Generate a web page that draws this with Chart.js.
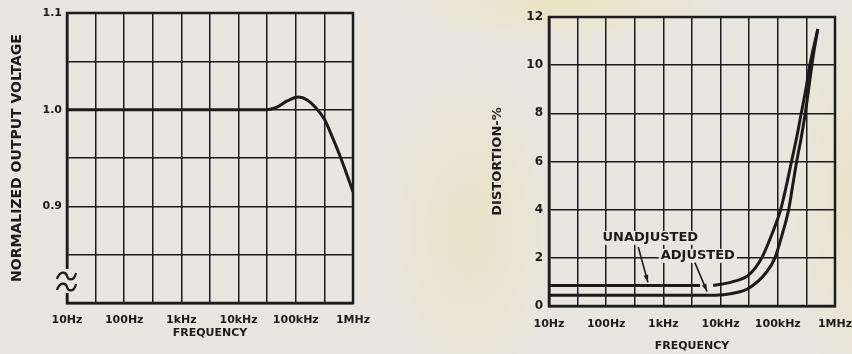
<!DOCTYPE html>
<html>
<head>
<meta charset="utf-8">
<script src="https://cdn.jsdelivr.net/npm/chart.js@4.4.1/dist/chart.umd.min.js"></script>
<style>
  html, body { margin: 0; padding: 0; }
  body {
    width: 852px; height: 354px; overflow: hidden; position: relative;
    background:
      radial-gradient(ellipse 160px 40px at 560px 0px, rgba(238, 224, 170, 0.55), rgba(238, 224, 170, 0)),
      radial-gradient(ellipse 90px 160px at 470px 230px, rgba(236, 222, 172, 0.45), rgba(236, 222, 172, 0)),
      radial-gradient(ellipse 60px 200px at 852px 200px, rgba(236, 222, 172, 0.4), rgba(236, 222, 172, 0)),
      #e8e6de;
  }
  #left { position: absolute; left: 0; top: 0; }
  #right { position: absolute; left: 440px; top: 0; }
</style>
</head>
<body>
<canvas id="left" width="380" height="354"></canvas>
<canvas id="right" width="412" height="354"></canvas>
<script>
// frequency axis (shared)
const gridFreqs = [10, 31.62, 100, 316.2, 1000, 3162, 10000, 31623, 100000, 316228, 1000000];
const decadeFreqs = [10, 100, 1000, 10000, 100000, 1000000];
const freqLabels = ["10Hz", "100Hz", "1kHz", "10kHz", "100kHz", "1MHz"];

// left: normalized output voltage
const voltGrid = [0.8, 0.85, 0.9, 0.95, 1.0, 1.05, 1.1];
const voltTickValues = [0.9, 1.0, 1.1];
const voltTickLabels = ["0.9", "1.0", "1.1"];
const respFreq = [10, 31623, 44668, 70795, 112202, 158489, 223872, 316228, 446684, 630957, 1000000];
const respVolt = [1.0, 1.0, 1.002, 1.009, 1.013, 1.01, 1.002, 0.99, 0.97, 0.948, 0.915];

// right: distortion
const unadjFreq = [10, 4365, 5500, 7413, 15849, 31623, 52481, 79433, 112202, 141254, 173780, 213796, 257040, 309030, 363078, 501187];
const unadjDist = [0.85, 0.85, null, 0.85, 1.0, 1.3, 2.0, 3.0, 4.0, 5.0, 6.0, 7.0, 8.0, 9.0, 10.0, 11.5];
const adjFreq = [10, 7943, 15849, 31623, 63096, 89125, 120226, 154882, 181970, 213796, 257040, 301995, 354813, 416869, 501187];
const adjDist = [0.45, 0.45, 0.52, 0.75, 1.4, 2.0, 3.0, 4.0, 5.0, 6.0, 7.0, 8.0, 9.2, 10.4, 11.5];

// callouts on the distortion chart
const noteLabels = ["UNADJUSTED", "ADJUSTED"];
const noteAt = [[590, 2.83], [4000, 2.08]];
const arrowFrom = [[363, 2.45], [3548, 1.8]];
const arrowTo = [[537, 0.98], [5800, 0.6]];

const ink = "#1b1b1b";
const paper = "#e8e6de";

Chart.defaults.font.family = "'DejaVu Sans', sans-serif";
Chart.defaults.font.weight = "bold";
Chart.defaults.color = ink;

function toPoints(xs, ys) {
    return xs.map((x, i) => ({ x: x, y: ys[i] }));
}

function freqAxis(height, tickPad, titlePad) {
    return {
        type: "logarithmic",
        min: 10,
        max: 1000000,
        afterBuildTicks: (scale) => {
            scale.ticks = gridFreqs.map(v => ({ value: v }));
        },
        afterFit: (scale) => {
            scale.height = height;
            scale.paddingLeft = 0;
            scale.paddingRight = 0;
        },
        grid: { color: ink, lineWidth: 1.5, drawTicks: false },
        border: { color: ink, width: 2.5 },
        ticks: {
            autoSkip: false,
            maxRotation: 0,
            padding: tickPad,
            font: { size: 11, weight: "bold" },
            callback: (v) => {
                const i = decadeFreqs.indexOf(v);
                return i >= 0 ? freqLabels[i] : "";
            }
        },
        title: {
            display: true,
            text: "FREQUENCY",
            font: { size: 11, weight: "bold" },
            padding: { top: 0, bottom: titlePad }
        }
    };
}

// heavy frame round the plot
const framePlugin = {
    id: "frame",
    beforeDatasetsDraw(chart) {
        const a = chart.chartArea;
        const ctx = chart.ctx;
        ctx.save();
        ctx.strokeStyle = ink;
        ctx.lineWidth = 2.5;
        ctx.strokeRect(a.left, a.top, a.right - a.left, a.bottom - a.top);
        ctx.restore();
    }
};

// axis break mark on the voltage chart
const breakPlugin = {
    id: "axisBreak",
    afterDraw(chart) {
        const a = chart.chartArea;
        const ctx = chart.ctx;
        ctx.save();
        ctx.fillStyle = paper;
        ctx.fillRect(a.left - 3, a.bottom - 34, 6, 24);
        ctx.strokeStyle = ink;
        ctx.lineWidth = 2.2;
        [a.bottom - 27, a.bottom - 16].forEach(y => {
            ctx.beginPath();
            ctx.moveTo(a.left - 10, y + 3);
            ctx.bezierCurveTo(a.left - 7, y - 6, a.left - 1, y - 4, a.left, y);
            ctx.bezierCurveTo(a.left + 1, y + 4, a.left + 7, y + 6, a.left + 9, y - 3);
            ctx.stroke();
        });
        ctx.restore();
    }
};

// labels with arrows on the distortion chart
const notePlugin = {
    id: "notes",
    afterDatasetsDraw(chart) {
        const xs = chart.scales.x, ys = chart.scales.y;
        const ctx = chart.ctx;
        ctx.save();
        ctx.font = "bold 13px 'DejaVu Sans'";
        ctx.textAlign = "center";
        ctx.textBaseline = "middle";
        noteLabels.forEach((t, i) => {
            const cx = xs.getPixelForValue(noteAt[i][0]);
            const cy = ys.getPixelForValue(noteAt[i][1]);
            const w = ctx.measureText(t).width;
            ctx.fillStyle = paper;
            ctx.fillRect(cx - w / 2 - 2, cy - 7, w + 4, 14);
            ctx.fillStyle = ink;
            ctx.fillText(t, cx, cy);

            const x0 = xs.getPixelForValue(arrowFrom[i][0]);
            const y0 = ys.getPixelForValue(arrowFrom[i][1]);
            const x1 = xs.getPixelForValue(arrowTo[i][0]);
            const y1 = ys.getPixelForValue(arrowTo[i][1]);
            ctx.strokeStyle = ink;
            ctx.lineWidth = 1.6;
            ctx.beginPath();
            ctx.moveTo(x0, y0);
            ctx.lineTo(x1, y1);
            ctx.stroke();
            const ang = Math.atan2(y1 - y0, x1 - x0);
            ctx.beginPath();
            ctx.moveTo(x1, y1);
            ctx.lineTo(x1 - 8 * Math.cos(ang - 0.3), y1 - 8 * Math.sin(ang - 0.3));
            ctx.lineTo(x1 - 8 * Math.cos(ang + 0.3), y1 - 8 * Math.sin(ang + 0.3));
            ctx.closePath();
            ctx.fill();
        });
        ctx.restore();
    }
};

const curveStyle = {
    borderColor: ink,
    borderWidth: 3,
    pointRadius: 0,
    fill: false,
    cubicInterpolationMode: "monotone",
    spanGaps: false
};

new Chart(document.getElementById("left"), {
    type: "line",
    data: {
        datasets: [Object.assign({
            label: "Normalized output voltage",
            data: toPoints(respFreq, respVolt)
        }, curveStyle)]
    },
    options: {
        responsive: false,
        animation: false,
        layout: { padding: { left: 0, right: 27, top: 13, bottom: 0 } },
        plugins: { legend: { display: false }, tooltip: { enabled: false } },
        scales: {
            x: freqAxis(51, 11, 14),
            y: {
                min: 0.8,
                max: 1.1,
                afterBuildTicks: (scale) => {
                    scale.ticks = voltGrid.map(v => ({ value: v }));
                },
                afterFit: (scale) => { scale.width = 67; },
                grid: { color: ink, lineWidth: 1.5, drawTicks: false },
                border: { color: ink, width: 2.5 },
                ticks: {
                    padding: 5,
                    font: { size: 11, weight: "bold" },
                    callback: (v) => {
                        const i = voltTickValues.findIndex(t => Math.abs(t - v) < 1e-6);
                        return i >= 0 ? voltTickLabels[i] : "";
                    }
                },
                title: {
                    display: true,
                    text: "NORMALIZED OUTPUT VOLTAGE",
                    font: { size: 14, weight: "bold" },
                    padding: { top: 9, bottom: 0 }
                }
            }
        }
    },
    plugins: [framePlugin, breakPlugin]
});

new Chart(document.getElementById("right"), {
    type: "line",
    data: {
        datasets: [
            Object.assign({ label: "Unadjusted", data: toPoints(unadjFreq, unadjDist) }, curveStyle),
            Object.assign({ label: "Adjusted", data: toPoints(adjFreq, adjDist) }, curveStyle)
        ]
    },
    options: {
        responsive: false,
        animation: false,
        layout: { padding: { left: 0, right: 17, top: 17, bottom: 0 } },
        plugins: { legend: { display: false }, tooltip: { enabled: false } },
        scales: {
            x: freqAxis(48, 12, 1),
            y: {
                min: 0,
                max: 12,
                ticks: {
                    stepSize: 2,
                    padding: 6,
                    font: { size: 12, weight: "bold" }
                },
                afterFit: (scale) => { scale.width = 109; },
                grid: { color: ink, lineWidth: 1.5, drawTicks: false },
                border: { color: ink, width: 2.5 },
                title: {
                    display: true,
                    text: "DISTORTION-%",
                    font: { size: 13, weight: "bold" },
                    padding: { top: 50, bottom: 0 }
                }
            }
        }
    },
    plugins: [framePlugin, notePlugin]
});
</script>
</body>
</html>
